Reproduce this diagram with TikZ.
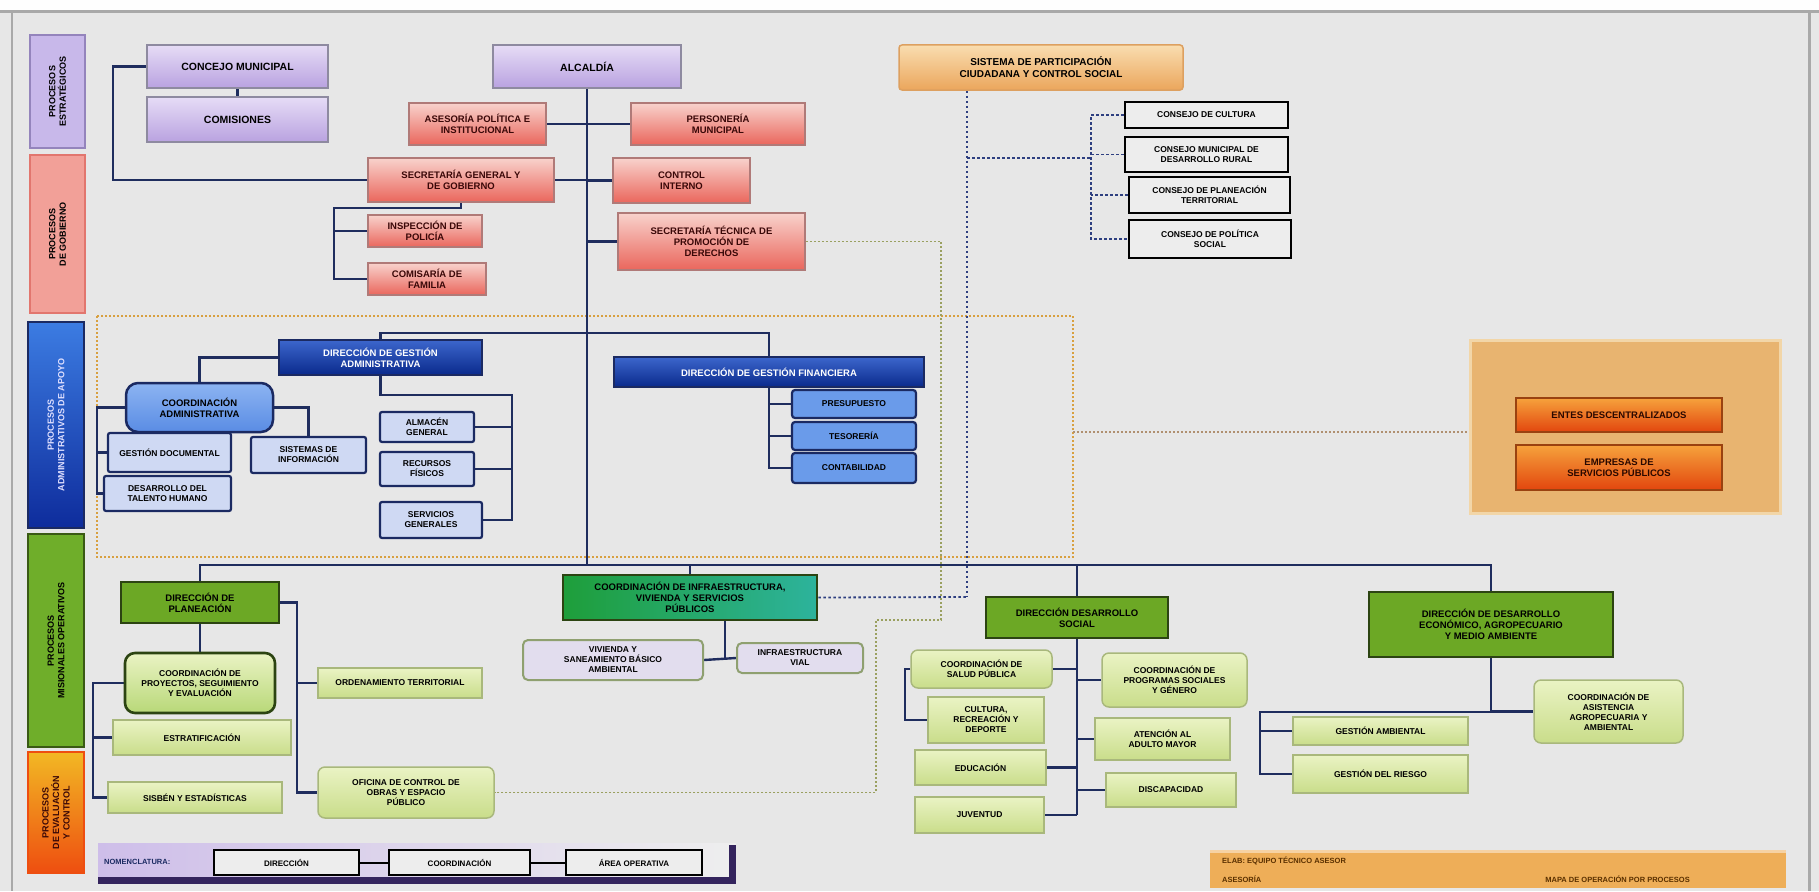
\documentclass[tikz,border=0pt]{standalone}
\usepackage{fontspec}
\setmainfont{Liberation Sans}
\usetikzlibrary{calc}
\pgfdeclarelayer{bg}
\pgfsetlayers{bg,main}
\definecolor{cBack}{HTML}{E7E7E7}
\definecolor{cFrame}{HTML}{A9A9A9}
\definecolor{cPurpT}{HTML}{E6DCF6}
\definecolor{cPurpB}{HTML}{B9A2E0}
\definecolor{cPurpD}{HTML}{8E8AA0}
\definecolor{cPinkT}{HTML}{F8D2CC}
\definecolor{cPinkB}{HTML}{EA665C}
\definecolor{cPinkD}{HTML}{B07A78}
\definecolor{cPinkTx}{HTML}{3A0808}
\definecolor{cSysT}{HTML}{F9DDB0}
\definecolor{cSysB}{HTML}{EBA65C}
\definecolor{cSysD}{HTML}{DDA060}
\definecolor{cBlk}{HTML}{EDEDED}
\definecolor{cNavy}{HTML}{1B2A62}
\definecolor{cDBT}{HTML}{3C66CC}
\definecolor{cDBB}{HTML}{0A2A8C}
\definecolor{cLB}{HTML}{CFD9F3}
\definecolor{cMB}{HTML}{6A9BEA}
\definecolor{cCBT}{HTML}{8CB4F2}
\definecolor{cCBB}{HTML}{5A8CE4}
\definecolor{cDG}{HTML}{6CA825}
\definecolor{cDGD}{HTML}{2C4412}
\definecolor{cTealL}{HTML}{1E9E3A}
\definecolor{cTealR}{HTML}{2DB39C}
\definecolor{cLGT}{HTML}{EAF3C4}
\definecolor{cLGB}{HTML}{C9DD8A}
\definecolor{cLGD}{HTML}{A9B87C}
\definecolor{cLG2}{HTML}{B8D878}
\definecolor{cTS}{HTML}{E2DDEE}
\definecolor{cTSD}{HTML}{8FA070}
\definecolor{cOB}{HTML}{E8B470}
\definecolor{cOBD}{HTML}{F2D6A8}
\definecolor{cORT}{HTML}{F6A23C}
\definecolor{cORB}{HTML}{E2460E}
\definecolor{cORD}{HTML}{9A4210}
\definecolor{cORTx}{HTML}{2A0800}
\definecolor{cConn}{HTML}{1F2D5E}
\definecolor{cDotZ}{HTML}{D8A040}
\definecolor{cDotB}{HTML}{2E3F80}
\definecolor{cDotG}{HTML}{9AA060}
\definecolor{cDotO}{HTML}{B09070}
\definecolor{cFoot}{HTML}{EEAE58}
\definecolor{cFootTx}{HTML}{5A3000}
\definecolor{bandP}{HTML}{C8B8EA}
\definecolor{bandPD}{HTML}{9484BC}
\definecolor{bandK}{HTML}{F2A098}
\definecolor{bandKD}{HTML}{E2766E}
\definecolor{bandBL}{HTML}{3C7CE2}
\definecolor{bandBR}{HTML}{0E2C9C}
\definecolor{bandG}{HTML}{6FAE2A}
\definecolor{bandGD}{HTML}{3A5A14}
\definecolor{bandOL}{HTML}{F2B824}
\definecolor{bandOR}{HTML}{EE4E10}
\newcommand\Bx[7]{\node[#1, minimum width={#5-#3}, minimum height={#6-#4}] (#2) at ({(#3+#5)/2},{(#4+#6)/2}) {#7};}
\begin{document}
\begin{tikzpicture}[x=1pt,y=-1pt,
  every node/.style={font=\bfseries\fontsize{9.5}{11}\selectfont, align=center, inner sep=1pt},
  bxs/.style={rectangle, draw, line width=1.5pt},
  purp/.style={bxs, draw=cPurpD, top color=cPurpT, bottom color=cPurpB, font=\bfseries\fontsize{10.5}{12}\selectfont},
  pinkb/.style={bxs, draw=cPinkD, top color=cPinkT, bottom color=cPinkB, text=cPinkTx},
  sysb/.style={bxs, draw=cSysD, top color=cSysT, bottom color=cSysB, rounded corners=3pt, font=\bfseries\fontsize{10}{12}\selectfont},
  blk/.style={bxs, draw=black, line width=2.6pt, fill=cBlk, font=\bfseries\fontsize{8.5}{10}\selectfont},
  dblue/.style={bxs, draw=cNavy, top color=cDBT, bottom color=cDBB, text=white},
  lblue/.style={bxs, draw=cNavy, line width=2.2pt, fill=cLB, rounded corners=2pt, font=\bfseries\fontsize{8.5}{10}\selectfont},
  mblue/.style={bxs, draw=cNavy, line width=2.2pt, fill=cMB, rounded corners=3pt, font=\bfseries\fontsize{8.5}{10}\selectfont},
  cblue/.style={bxs, draw=cNavy, line width=2.5pt, top color=cCBT, bottom color=cCBB, rounded corners=12pt},
  dgreen/.style={bxs, draw=cDGD, line width=2.6pt, fill=cDG},
  tealb/.style={bxs, draw=cDGD, line width=2.6pt, left color=cTealL, right color=cTealR},
  lgreen/.style={bxs, draw=cLGD, top color=cLGT, bottom color=cLGB, font=\bfseries\fontsize{8.5}{10}\selectfont},
  lgreenr/.style={lgreen, rounded corners=7pt},
  cgreen/.style={bxs, draw=cDGD, line width=2.6pt, top color=cLGT, bottom color=cLG2, rounded corners=10pt, font=\bfseries\fontsize{8.5}{10}\selectfont},
  tsub/.style={bxs, draw=cTSD, line width=2pt, fill=cTS, rounded corners=5pt, font=\bfseries\fontsize{8.5}{10}\selectfont},
  obigb/.style={bxs, draw=cOBD, line width=3pt, fill=cOB},
  ored/.style={bxs, draw=cORD, top color=cORT, bottom color=cORB, text=cORTx},
  band/.style={rectangle, line width=2pt, rotate=90, font=\bfseries\fontsize{9}{10.5}\selectfont},
  legb/.style={bxs, draw=black, line width=2.4pt, fill=cBlk, font=\bfseries\fontsize{8}{9}\selectfont},
  conn/.style={draw=cConn, line width=2.4pt},
  dotZ/.style={draw=cDotZ, line width=1.8pt, dash pattern=on 2pt off 2pt},
  dotB/.style={draw=cDotB, line width=1.8pt, dash pattern=on 2.5pt off 2.5pt},
  dotG/.style={draw=cDotG, line width=1.8pt, dash pattern=on 2pt off 2pt},
  dotO/.style={draw=cDotO, line width=1.6pt, dash pattern=on 2pt off 2pt},
  ftx/.style={font=\bfseries\fontsize{7.5}{8.5}\selectfont, text=cFootTx, inner sep=0pt}
]
\useasboundingbox (0,0) rectangle (1819,891);
\begin{pgfonlayer}{bg}
\fill[cBack] (0,0) rectangle (1819,891);
\fill[white!95!cBack] (0,0) rectangle (1819,11);
\draw[cFrame, line width=3pt] (0,12) -- (1819,12);
\draw[cFrame, line width=2.5pt] (12,12) -- (12,891);
\draw[cFrame, line width=3pt] (1809,12) -- (1809,891);
\draw[dotZ] (97,316) rectangle (1073,557);
\end{pgfonlayer}

% process bands
\node[band, draw=bandPD, fill=bandP, minimum width=113, minimum height=55] (bP) at (57.5,91.5) {PROCESOS\\ESTRATÉGICOS};
\node[band, draw=bandKD, fill=bandK, minimum width=158, minimum height=55] (bK) at (57.5,234) {PROCESOS\\DE GOBIERNO};
\node[band, draw=cNavy, top color=bandBL, bottom color=bandBR, text=white!88!blue, minimum width=206, minimum height=56] (bB) at (56,425) {PROCESOS\\ADMINISTRATIVOS DE APOYO};
\node[band, draw=bandGD, fill=bandG, minimum width=213, minimum height=56] (bG) at (56,640.5) {PROCESOS\\MISIONALES OPERATIVOS};
\node[band, draw=bandOR, top color=bandOL, bottom color=bandOR, text=cPinkTx, minimum width=121, minimum height=56] (bO) at (56,812.5) {PROCESOS\\DE EVALUACIÓN\\Y CONTROL};

% top level
\Bx{purp}{conc}{147}{45}{328}{88}{CONCEJO MUNICIPAL}
\Bx{purp}{com}{147}{97}{328}{142}{COMISIONES}
\Bx{purp}{alc}{493}{45}{681}{88}{ALCALDÍA}
\Bx{pinkb}{cpol}{409}{103}{546}{145}{ASESORÍA POLÍTICA E\\INSTITUCIONAL}
\Bx{pinkb}{pers}{631}{103}{805}{145}{PERSONERÍA\\MUNICIPAL}
\Bx{pinkb}{sec}{368}{158}{554}{202}{SECRETARÍA GENERAL Y\\DE GOBIERNO}
\Bx{pinkb}{aud}{613}{158}{750}{203}{CONTROL\\INTERNO}
\Bx{pinkb}{prom}{618}{213}{805}{270}{SECRETARÍA TÉCNICA DE\\PROMOCIÓN DE\\DERECHOS}
\Bx{pinkb}{insp}{368}{215}{482}{247}{INSPECCIÓN DE\\POLICÍA}
\Bx{pinkb}{comi}{368}{263}{486}{295}{COMISARÍA DE\\FAMILIA}
\Bx{sysb}{sys}{899}{45}{1183}{90}{SISTEMA DE PARTICIPACIÓN\\CIUDADANA Y CONTROL SOCIAL}
\Bx{blk}{b1}{1125}{102}{1288}{128}{CONSEJO DE CULTURA}
\Bx{blk}{b2}{1125}{137}{1288}{172}{CONSEJO MUNICIPAL DE\\DESARROLLO RURAL}
\Bx{blk}{b3}{1129}{177}{1290}{213}{CONSEJO DE PLANEACIÓN\\TERRITORIAL}
\Bx{blk}{b4}{1129}{220}{1291}{258}{CONSEJO DE POLÍTICA\\SOCIAL}

% support processes
\Bx{dblue}{dadm}{279}{340}{482}{375}{DIRECCIÓN DE GESTIÓN\\ADMINISTRATIVA}
\Bx{dblue}{dfin}{614}{357}{924}{387}{DIRECCIÓN DE GESTIÓN FINANCIERA}
\Bx{mblue}{f1}{792}{390}{916}{418}{PRESUPUESTO}
\Bx{mblue}{f2}{792}{422}{916}{450}{TESORERÍA}
\Bx{mblue}{f3}{792}{453}{916}{483}{CONTABILIDAD}
\Bx{cblue}{cadm}{126}{383}{273}{432}{COORDINACIÓN\\ADMINISTRATIVA}
\Bx{lblue}{sinf}{251}{437}{366}{473}{SISTEMAS DE\\INFORMACIÓN}
\Bx{lblue}{ba}{108}{433}{231}{472}{GESTIÓN DOCUMENTAL}
\Bx{lblue}{bb}{104}{476}{231}{511}{DESARROLLO DEL\\TALENTO HUMANO}
\Bx{lblue}{c1}{380}{412}{474}{442}{ALMACÉN\\GENERAL}
\Bx{lblue}{c2}{380}{452}{474}{486}{RECURSOS\\FÍSICOS}
\Bx{lblue}{c3}{380}{502}{482}{538}{SERVICIOS\\GENERALES}

% decentralized
\Bx{obigb}{obig}{1470}{340}{1780}{513}{}
\Bx{ored}{o1}{1516}{398}{1722}{432}{ENTES DESCENTRALIZADOS}
\Bx{ored}{o2}{1516}{445}{1722}{490}{EMPRESAS DE\\SERVICIOS PÚBLICOS}

% mission processes
\Bx{dgreen}{plan}{121}{582}{279}{623}{DIRECCIÓN DE\\PLANEACIÓN}
\Bx{cgreen}{cpro}{125}{653}{275}{713}{COORDINACIÓN DE\\PROYECTOS, SEGUIMIENTO\\Y EVALUACIÓN}
\Bx{lgreen}{g1}{113}{720}{291}{755}{ESTRATIFICACIÓN}
\Bx{lgreen}{g2}{108}{782}{282}{813}{SISBÉN Y ESTADÍSTICAS}
\Bx{lgreen}{g3}{318}{668}{482}{698}{ORDENAMIENTO TERRITORIAL}
\Bx{lgreenr}{g4}{318}{767}{494}{818}{OFICINA DE CONTROL DE\\OBRAS Y ESPACIO\\PÚBLICO}
\Bx{tealb}{teal}{563}{575}{817}{620}{COORDINACIÓN DE INFRAESTRUCTURA,\\VIVIENDA Y SERVICIOS\\PÚBLICOS}
\Bx{tsub}{t1}{523}{640}{703}{680}{VIVIENDA Y\\SANEAMIENTO BÁSICO\\AMBIENTAL}
\Bx{tsub}{t2}{737}{643}{863}{673}{INFRAESTRUCTURA\\VIAL}
\Bx{dgreen}{dsoc}{986}{597}{1168}{638}{DIRECCIÓN DESARROLLO\\SOCIAL}
\Bx{lgreenr}{s1}{911}{650}{1052}{688}{COORDINACIÓN DE\\SALUD PÚBLICA}
\Bx{lgreen}{s2}{928}{697}{1044}{743}{CULTURA,\\RECREACIÓN Y\\DEPORTE}
\Bx{lgreen}{s4}{915}{750}{1046}{785}{EDUCACIÓN}
\Bx{lgreen}{s5}{915}{797}{1044}{833}{JUVENTUD}
\Bx{lgreenr}{r1}{1102}{653}{1247}{707}{COORDINACIÓN DE\\PROGRAMAS SOCIALES\\Y GÉNERO}
\Bx{lgreen}{r2}{1095}{718}{1230}{760}{ATENCIÓN AL\\ADULTO MAYOR}
\Bx{lgreen}{r3}{1106}{773}{1236}{807}{DISCAPACIDAD}
\Bx{dgreen}{dirE}{1369}{592}{1613}{657}{DIRECCIÓN DE DESARROLLO\\ECONÓMICO, AGROPECUARIO\\Y MEDIO AMBIENTE}
\Bx{lgreenr}{q1}{1534}{680}{1683}{743}{COORDINACIÓN DE\\ASISTENCIA\\AGROPECUARIA Y\\AMBIENTAL}
\Bx{lgreen}{q2}{1293}{717}{1468}{745}{GESTIÓN AMBIENTAL}
\Bx{lgreen}{q3}{1293}{755}{1468}{793}{GESTIÓN DEL RIESGO}

% legend and footer
\begin{pgfonlayer}{bg}
\fill[left color=cPurpB!70, right color=cBack!70!white] (98,843) rectangle (736,883);
\fill[cNavy!85!purple] (98,877) rectangle (736,884);
\fill[cNavy!85!purple] (729,845) rectangle (736,884);
\fill[cFoot] (1210,850) rectangle (1786,888);
\fill[cFoot!55!white] (1210,850) rectangle (1786,853);
\end{pgfonlayer}
\node[font=\bfseries\fontsize{7.5}{8.5}\selectfont, text=cNavy, anchor=west] (nom) at (103,862) {NOMENCLATURA:};
\Bx{legb}{l1}{214}{850}{359}{875}{DIRECCIÓN}
\Bx{legb}{l2}{389}{850}{530}{875}{COORDINACIÓN}
\Bx{legb}{l3}{566}{850}{702}{875}{ÁREA OPERATIVA}
\node[ftx, anchor=west] (ft1) at (1222,861) {ELAB: EQUIPO TÉCNICO ASESOR};
\node[ftx, anchor=west] (ft2) at (1222,879) {ASESORÍA};
\node[ftx, anchor=east] (ft3) at (1690,879) {MAPA DE OPERACIÓN POR PROCESOS};

% helper coordinates
\coordinate (busL) at (198,565);
\coordinate (kS) at (334,208);
\coordinate (kC) at (512,395);
\coordinate (kA) at (97,400);
\coordinate (kG) at (93,700);
\coordinate (kH) at (297,700);
\coordinate (kT) at (725,659);
\coordinate (kS2) at (905,700);
\coordinate (kE) at (1260,712);
\coordinate (sv) at (967,597);
\coordinate (sb) at (1091,158);
\coordinate (pr1) at (941,620);
\coordinate (pr2) at (876,788);
\coordinate (zr) at (1073,432);
\coordinate (yB) at (0,333);

\begin{pgfonlayer}{bg}
% solid connectors
\draw[conn] (conc.south) -- (com.north);
\draw[conn] (conc.west) -- ++(-33,0) |- (sec.west);
\draw[conn] (alc.south) -- (alc.south |- busL);
\draw[conn] (cpol.east) -- (cpol.east -| alc.south);
\draw[conn] (pers.west) -- (pers.west -| alc.south);
\draw[conn] (sec.east) -- (sec.east -| alc.south);
\draw[conn] (aud.west) -- (aud.west -| alc.south);
\draw[conn] (prom.west) -- (prom.west -| alc.south);
\draw[conn] (sec.south) |- (kS) |- (comi.west);
\draw[conn] (insp.west) -- (insp.west -| kS);
\draw[conn] (dadm.north) -- (dadm.north |- yB) -- (dfin.north |- yB) -- (dfin.north);
\draw[conn] (dadm.west) -| (cadm.north);
\draw[conn] (cadm.east) -| (sinf.north);
\draw[conn] (cadm.west) -- (cadm.west -| kA) |- (bb.west);
\draw[conn] (ba.west) -- (ba.west -| kA);
\draw[conn] (dadm.south) |- (kC) |- (c3.east);
\draw[conn] (c1.east) -- (c1.east -| kC);
\draw[conn] (c2.east) -- (c2.east -| kC);
\draw[conn] (dfin.south) |- (f3.west);
\draw[conn] (f1.west) -- (f1.west -| dfin.south);
\draw[conn] (f2.west) -- (f2.west -| dfin.south);
\draw[conn] (plan.north) -- (plan.north |- busL) -- (dirE.north |- busL) -- (dirE.north);
\draw[conn] (teal.north |- busL) -- (teal.north);
\draw[conn] (dsoc.north |- busL) -- (dsoc.north);
\draw[conn] (plan.south) -- (cpro.north);
\draw[conn] (cpro.west) -- (cpro.west -| kG) |- (g2.west);
\draw[conn] (g1.west) -- (g1.west -| kG);
\draw[conn] (plan.east) -- (plan.east -| kH) |- (g4.west);
\draw[conn] (g3.west) -- (g3.west -| kH);
\draw[conn] (teal.south -| kT) -- (kT);
\draw[conn] (t1.east) -- (t2.west);
\draw[conn] (dsoc.south) -- (dsoc.south |- s5.east);
\draw[conn] (s1.east) -- (s1.east -| dsoc.south);
\draw[conn] (s4.east) -- (s4.east -| dsoc.south);
\draw[conn] (s5.east) -- (s5.east -| dsoc.south);
\draw[conn] (r1.west) -- (r1.west -| dsoc.south);
\draw[conn] (r2.west) -- (r2.west -| dsoc.south);
\draw[conn] (r3.west) -- (r3.west -| dsoc.south);
\draw[conn] (s1.west) -- (s1.west -| kS2) |- (s2.west);
\draw[conn] (dirE.south) |- (q1.west);
\draw[conn] (dirE.south |- kE) -- (kE) |- (q3.west);
\draw[conn] (q2.west) -- (q2.west -| kE);
\draw[draw=black, line width=2pt] (l1.east) -- (l2.west);
\draw[draw=black, line width=2pt] (l2.east) -- (l3.west);
% dotted connectors
\draw[dotB] (sys.south -| sv) -- (sv);
\draw[dotB] (teal.east) -- (sv);
\draw[dotB] (sv |- sb) -- (sb);
\draw[dotB] (b1.west) -- (b1.west -| sb) -- (b4.west -| sb) -- (b4.west);
\draw[dotB] (b2.west) -- (b2.west -| sb);
\draw[dotB] (b3.west) -- (b3.west -| sb);
\draw[dotG] (prom.east) -| (pr1) -- (pr1 -| pr2) |- (g4.east);
\draw[dotO] (zr) -- (obig.west |- zr);
\end{pgfonlayer}
\end{tikzpicture}
\end{document}
